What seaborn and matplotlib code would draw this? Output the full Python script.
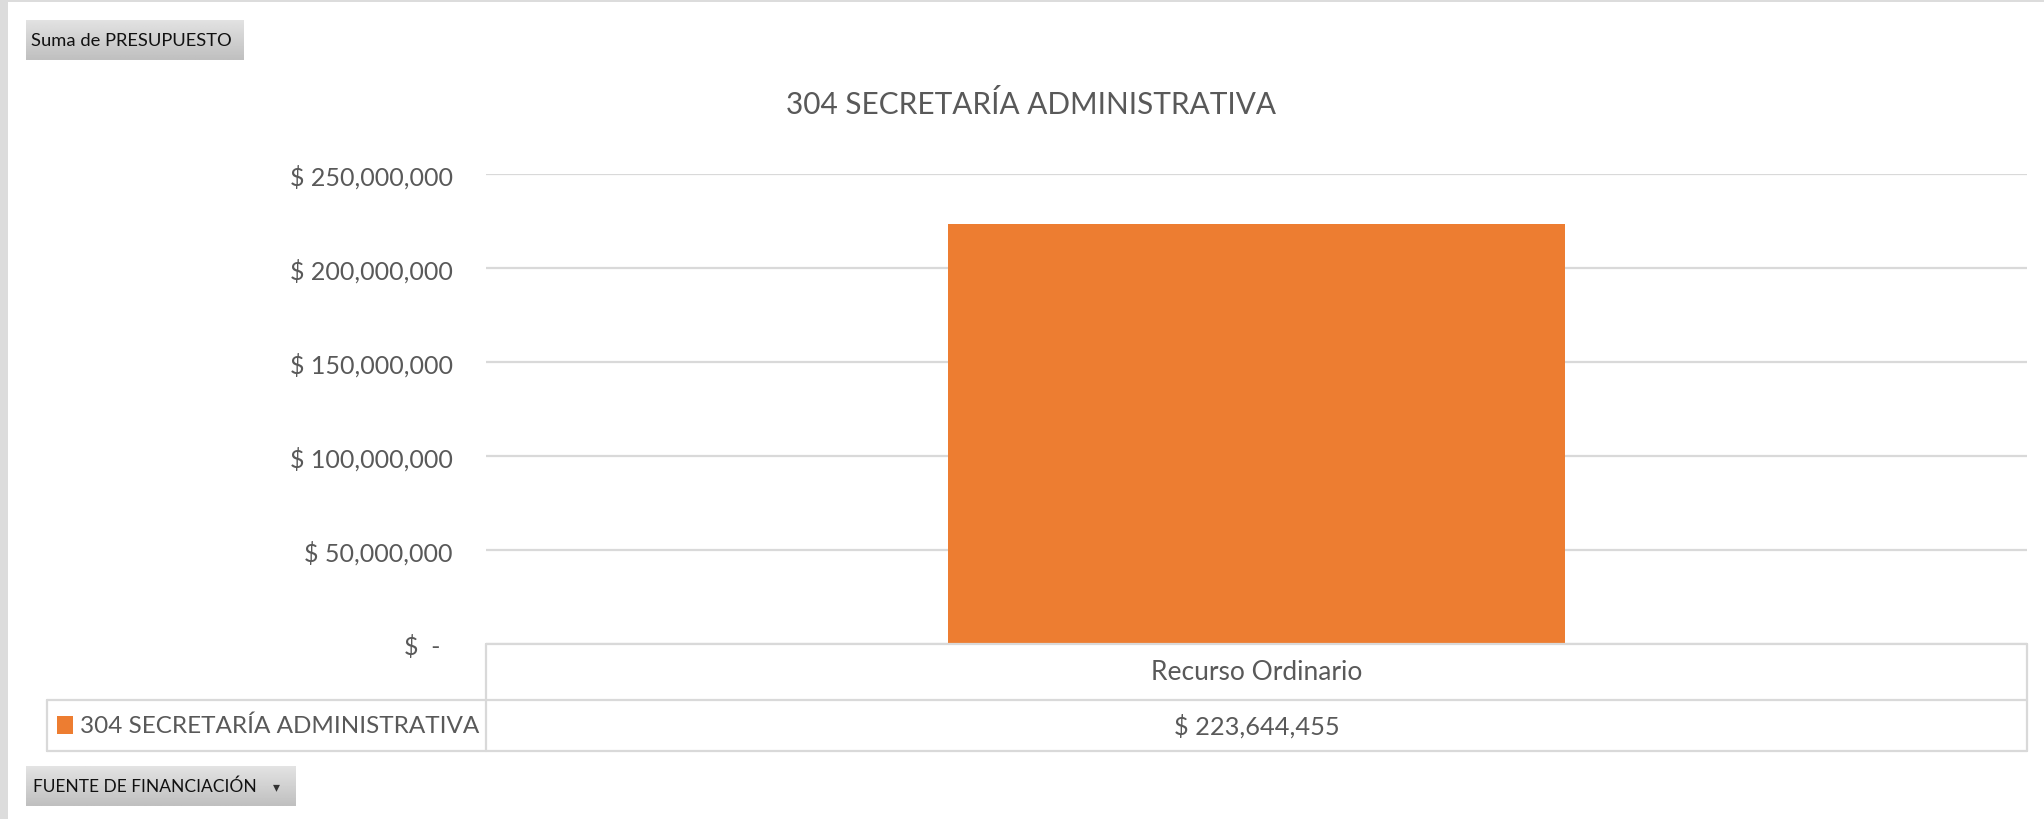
import matplotlib
matplotlib.use("Agg")
import matplotlib.pyplot as plt
import matplotlib.transforms as mtransforms
from matplotlib.patches import Rectangle
from matplotlib.lines import Line2D
import numpy as np
import pandas as pd
import seaborn as sns

# data
categories = ["Recurso Ordinario"]
series_name = "304 SECRETARÍA ADMINISTRATIVA"
presupuesto = [223644455]
y_ticks = [0, 50000000, 100000000, 150000000, 200000000, 250000000]
chart_title = "304 SECRETARÍA ADMINISTRATIVA"
value_field = "Suma de PRESUPUESTO"
axis_field = "FUENTE DE FINANCIACIÓN"

W, H = 2044, 820
TEXT = "#595959"
GRID = "#d9d9d9"
ORANGE = "#ED7D31"


def money(v):
    # accounting format: zero shows as a dash, padded like excel does
    return "$  -\u00a0\u00a0" if v == 0 else f"$ {v:,.0f}"


def fx(x):
    return x / W


def fy(y):
    return 1 - y / H


def button(x0, y0, x1, y1, label, size, arrow=False):
    bax = fig.add_axes([fx(x0), fy(y1), (x1 - x0) / W, (y1 - y0) / H])
    grad = np.linspace(0.89, 0.75, 50).reshape(-1, 1)
    bax.imshow(grad, cmap="gray", vmin=0, vmax=1, aspect="auto", extent=[0, 1, 0, 1])
    bax.set_axis_off()
    bax.text(0.025, 0.5, label, fontsize=size, color="#111111", va="center", ha="left",
             transform=bax.transAxes)
    if arrow:
        bax.text(0.93, 0.5, "▾", fontsize=size * 0.8, color="#333333", va="center",
                 ha="center", transform=bax.transAxes, family=["DejaVu Sans"])


sns.set_theme(style="white")
plt.rcParams["font.family"] = ["Lato", "DejaVu Sans"]

fig = plt.figure(figsize=(W / 100, H / 100), dpi=100)

# light frame on the left and top edges
fig.add_artist(Rectangle((0, 0), fx(8), 1, transform=fig.transFigure, color="#dcdcdc", lw=0))
fig.add_artist(Rectangle((0, fy(3)), 1, 3 / H, transform=fig.transFigure,
                         color="#dcdcdc", lw=0))

ax = fig.add_axes([fx(486), fy(645), (2027 - 486) / W, (645 - 175) / H])
df = pd.DataFrame({"fuente": categories, "presupuesto": presupuesto})
sns.barplot(data=df, x="fuente", y="presupuesto", color=ORANGE, saturation=1,
            width=0.4, linewidth=0, ax=ax)
ax.set_xlim(-0.5, len(categories) - 0.5)
ax.set_ylim(0, y_ticks[-1])
ax.set_yticks(y_ticks)
ax.set_yticklabels([money(v) for v in y_ticks], fontsize=18, color=TEXT)
ax.tick_params(axis="y", length=0, pad=24)
ax.set_xticks([])
ax.set_xlabel("")
ax.set_ylabel("")
ax.grid(axis="y", color=GRID, lw=1.6)
ax.set_axisbelow(True)
for s in ax.spines.values():
    s.set_visible(False)

fig.text(fx(1031), fy(104), chart_title, fontsize=21.4, color=TEXT, ha="center", va="center")

# data table under the axis
trans = mtransforms.blended_transform_factory(ax.transData, fig.transFigure)
for i, (cat, val) in enumerate(zip(categories, presupuesto)):
    ax.text(i, fy(673), cat, transform=trans, fontsize=19, color=TEXT,
            ha="center", va="center", clip_on=False)
    ax.text(i, fy(726), money(val), transform=trans, fontsize=18.3, color=TEXT,
            ha="center", va="center", clip_on=False)

table_lines = [
    ((486, 2027), (645, 645)),
    ((47, 2027), (701, 701)),
    ((47, 2027), (752, 752)),
    ((47, 47), (701, 752)),
    ((486, 486), (645, 752)),
    ((2027, 2027), (645, 752)),
]
for xs, ys in table_lines:
    fig.add_artist(Line2D([fx(x) for x in xs], [fy(y) for y in ys],
                          transform=fig.transFigure, color=GRID, lw=1.6))

fig.add_artist(Rectangle((fx(57), fy(735)), 16 / W, 18 / H, transform=fig.transFigure,
                         color=ORANGE, lw=0))
fig.text(fx(80), fy(726), series_name, fontsize=17.5, color=TEXT, ha="left", va="center")

button(26, 21, 244, 61, value_field, 13.2)
button(26, 767, 295, 807, axis_field, 12.5, arrow=True)

fig.savefig("out.png", dpi=100)
